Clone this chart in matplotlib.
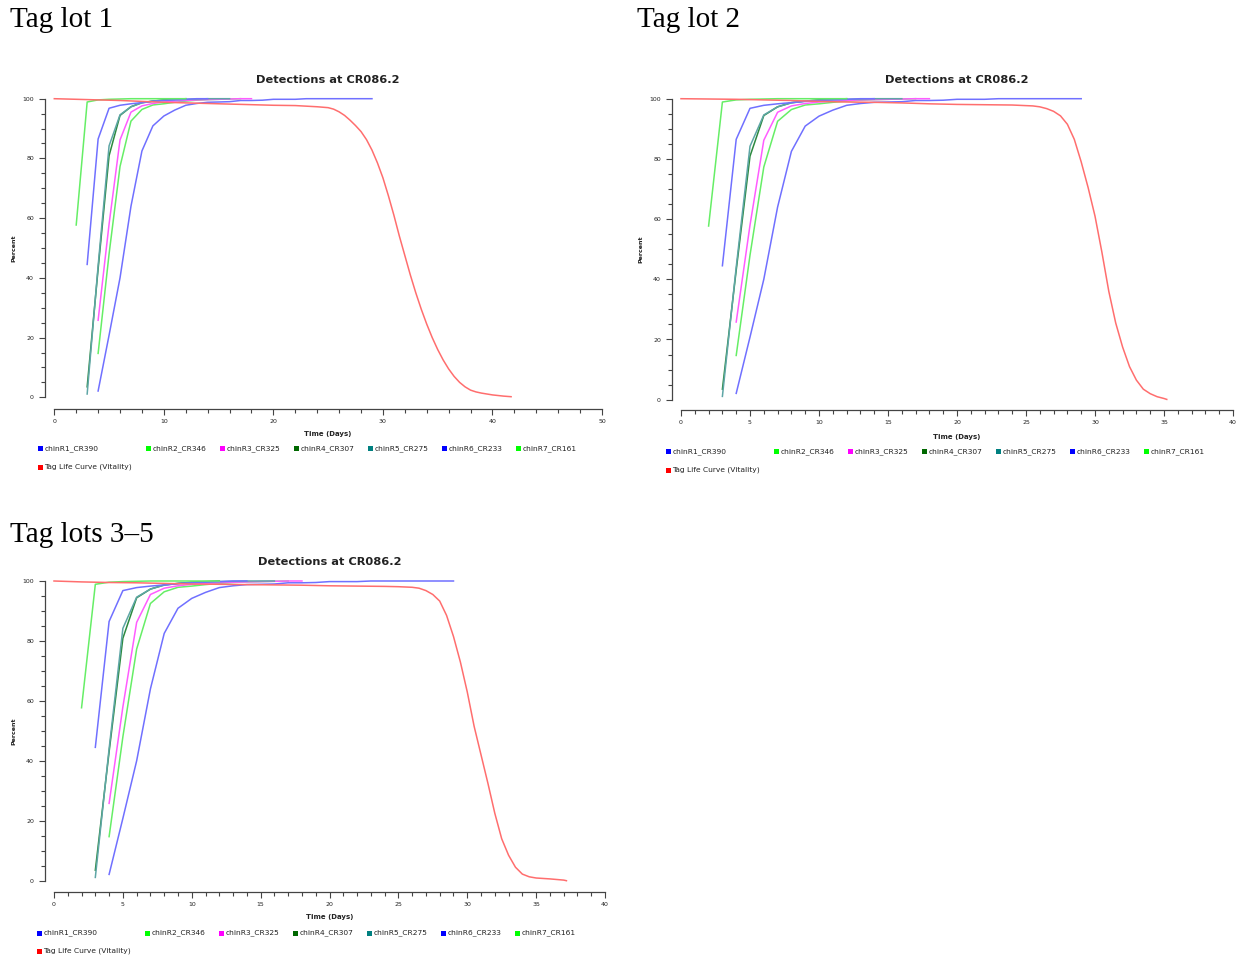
import matplotlib
matplotlib.use("Agg")
import matplotlib.pyplot as plt
from matplotlib.patches import Rectangle
from matplotlib.ticker import MultipleLocator

# ---------------------------------------------------------------- data
series_names = ["chinR1_CR390", "chinR2_CR346", "chinR3_CR325", "chinR4_CR307",
                "chinR5_CR275", "chinR6_CR233", "chinR7_CR161"]
vitality_name = "Tag Life Curve (Vitality)"

# cumulative detection percentage by day, one list per release group
chinR1_days = list(range(4, 30))
chinR1_pct = [2.1, 20.8, 40, 64, 82.5, 90.9, 94.2, 96.2, 97.8, 98.4, 98.8, 98.9, 99.0,
              99.4, 99.4, 99.5, 99.8, 99.8, 99.8, 100, 100, 100, 100, 100, 100, 100]
chinR2_days = list(range(4, 18))
chinR2_pct = [14.7, 48, 77.3, 92.5, 96.4, 97.9, 98.3, 98.8, 99.2, 99.5, 99.7, 99.8, 99.9, 100]
chinR3_days = list(range(4, 19))
chinR3_pct = [25.8, 58, 86.2, 95.5, 97.6, 98.4, 98.9, 99.2, 99.4, 99.6, 99.7, 99.8, 99.9, 100, 100]
chinR4_days = list(range(3, 13))
chinR4_pct = [3.5, 43, 80.9, 94.4, 97.3, 98.7, 99.2, 99.6, 99.8, 100]
chinR5_days = list(range(3, 17))
chinR5_pct = [1.1, 44, 84.2, 94.6, 97.3, 98.6, 99.2, 99.5, 99.7, 99.8, 99.9, 100, 100, 100]
chinR6_days = list(range(3, 15))
chinR6_pct = [44.5, 86.5, 96.8, 97.8, 98.3, 98.7, 99.1, 99.4, 99.6, 99.8, 100, 100]
chinR7_days = list(range(2, 13))
chinR7_pct = [57.7, 98.9, 99.6, 99.8, 99.9, 100, 100, 100, 100, 100, 100]

# tag life (vitality) curve for each tag lot
lot1_days = [0, 2, 4, 6, 8, 10, 12, 14, 16, 18, 20, 22, 24, 25, 25.5, 26, 26.5, 27, 27.5,
             28, 28.5, 29, 29.5, 30, 30.5, 31, 31.5, 32, 32.5, 33, 33.5, 34, 34.5, 35,
             35.5, 36, 36.5, 37, 37.5, 38, 38.5, 39, 39.5, 40, 41, 41.7]
lot1_pct = [100, 99.8, 99.6, 99.4, 99.1, 98.8, 98.6, 98.4, 98.2, 98.0, 97.8, 97.7, 97.3,
            97.0, 96.5, 95.6, 94.4, 92.8, 91.0, 89.0, 86.3, 82.8, 78.5, 73.5, 67.5, 61.0,
            54.0, 47.5, 41.0, 35.0, 29.5, 24.5, 20.0, 16.0, 12.5, 9.5, 7.0, 5.0, 3.5, 2.4,
            1.8, 1.4, 1.1, 0.8, 0.4, 0.2]
lot2_days = [0, 2, 4, 6, 8, 10, 12, 14, 16, 18, 20, 22, 24, 25, 25.5, 26, 26.5, 27, 27.5,
             28, 28.5, 29, 29.5, 30, 30.5, 31, 31.5, 32, 32.5, 33, 33.5, 34, 34.5, 35, 35.2]
lot2_pct = [100, 99.9, 99.8, 99.6, 99.4, 99.1, 98.9, 98.8, 98.6, 98.3, 98.1, 98.0, 97.9,
            97.7, 97.6, 97.3, 96.7, 95.8, 94.3, 91.5, 86.5, 79.0, 70.5, 61.0, 49.0, 36.0,
            25.5, 17.5, 11.0, 6.5, 3.5, 2.0, 1.0, 0.4, 0.1]
lot35_days = [0, 2, 4, 6, 8, 10, 12, 14, 16, 18, 20, 22, 24, 25, 25.5, 26, 26.5, 27, 27.5,
              28, 28.5, 29, 29.5, 30, 30.5, 31, 31.5, 32, 32.5, 33, 33.5, 34, 34.5, 35,
              36, 37, 37.2]
lot35_pct = [100, 99.7, 99.5, 99.4, 99.2, 99.0, 98.9, 98.8, 98.7, 98.6, 98.4, 98.3, 98.2,
             98.1, 98.0, 97.9, 97.6, 96.8, 95.5, 93.3, 88.5, 81.5, 73.0, 63.0, 51.5, 42.0,
             32.5, 22.5, 14.0, 8.5, 4.5, 2.2, 1.3, 0.9, 0.6, 0.2, 0.0]

panel_headings = ["Tag lot 1", "Tag lot 2", "Tag lots 3\u20135"]
chart_title = "Detections at CR086.2"
x_label = "Time (Days)"
y_label = "Percent"

# ---------------------------------------------------------------- styling
W, H = 1241, 955
line_colors = ["#7070ff", "#66ee66", "#ff5cff", "#2c8a40", "#5ea6a6", "#7070ff", "#66ee66"]
swatch_colors = ["#0000ff", "#00ff00", "#ff00ff", "#006800", "#008080", "#0000ff", "#00ff00"]
vitality_line = "#ff6e6e"
vitality_swatch = "#ff0000"
text_col = "#222222"
axis_col = "#444444"

detections = [(chinR1_days, chinR1_pct), (chinR2_days, chinR2_pct), (chinR3_days, chinR3_pct),
              (chinR4_days, chinR4_pct), (chinR5_days, chinR5_pct), (chinR6_days, chinR6_pct),
              (chinR7_days, chinR7_pct)]

fig = plt.figure(figsize=(W / 100, H / 100), dpi=100)
fig.patch.set_facecolor("white")


def fx(px):
    return px / W


def fy(py):
    return 1 - py / H


# panel layout in pixels: data area box, spine offsets, text rows
panels = [
    dict(box=(54.3, 98.7, 602.0, 397.3), xmax=50, major=10, minor=2,
         vit=(lot1_days, lot1_pct), heading=(10, 20), title_y=80,
         ylabel_x=14, xlabel_y=434, spine_left=45, spine_bottom=409,
         leg_x=38, leg_y=(449, 467)),
    dict(box=(681.0, 98.7, 1233.0, 399.7), xmax=40, major=5, minor=1,
         vit=(lot2_days, lot2_pct), heading=(637, 20), title_y=80,
         ylabel_x=641, xlabel_y=437, spine_left=672, spine_bottom=410,
         leg_x=666, leg_y=(452, 470)),
    dict(box=(54.0, 581.0, 605.0, 880.7), xmax=40, major=5, minor=1,
         vit=(lot35_days, lot35_pct), heading=(10, 535), title_y=562,
         ylabel_x=14, xlabel_y=917, spine_left=45, spine_bottom=892,
         leg_x=37, leg_y=(933, 951)),
]

col_offsets = [0, 108, 182, 256, 330, 404, 478]

for p, heading in zip(panels, panel_headings):
    x0, y0, x1, y1 = p["box"]
    ax = fig.add_axes([fx(x0), fy(y1), (x1 - x0) / W, (y1 - y0) / H])
    ax.set_facecolor("white")

    for (d, v), c in zip(detections, line_colors):
        ax.plot(d, v, color=c, lw=1.1, clip_on=False, solid_joinstyle="round")
    vd, vv = p["vit"]
    ax.plot(vd, vv, color=vitality_line, lw=1.1, clip_on=False, solid_joinstyle="round")

    ax.set_xlim(0, p["xmax"])
    ax.set_ylim(0, 100)
    for s in ("top", "right"):
        ax.spines[s].set_visible(False)
    ax.spines["left"].set_position(("outward", (x0 - p["spine_left"]) * 0.72))
    ax.spines["bottom"].set_position(("outward", (p["spine_bottom"] - y1) * 0.72))
    for s in ("left", "bottom"):
        ax.spines[s].set_color(axis_col)
        ax.spines[s].set_linewidth(0.9)

    ax.xaxis.set_major_locator(MultipleLocator(p["major"]))
    ax.xaxis.set_minor_locator(MultipleLocator(p["minor"]))
    ax.yaxis.set_major_locator(MultipleLocator(20))
    ax.yaxis.set_minor_locator(MultipleLocator(5))
    ax.tick_params(which="both", colors=axis_col, labelcolor=text_col, width=0.8,
                   labelsize=4.5)
    ax.tick_params(which="major", length=4)
    ax.tick_params(which="minor", length=3)
    ax.tick_params(axis="x", pad=3)
    ax.tick_params(axis="y", pad=4)

    # axis labels
    ax.set_xlabel(x_label, fontsize=5, fontweight="bold", color=text_col)
    ax.xaxis.set_label_coords(0.5, (y1 - p["xlabel_y"]) / (y1 - y0))
    ax.xaxis.label.set_va("center")
    ax.set_ylabel(y_label, fontsize=4.5, fontweight="bold", color=text_col)
    ax.yaxis.set_label_coords((p["ylabel_x"] - x0) / (x1 - x0), 0.5)
    ax.yaxis.label.set_va("center")

    # chart title
    fig.text(fx((x0 + x1) / 2), fy(p["title_y"]), chart_title, ha="center", va="center",
             fontsize=8.2, fontweight="bold", color=text_col)

    # panel heading
    hx, hy = p["heading"]
    fig.text(fx(hx), fy(hy), heading, ha="left", va="center", fontsize=21,
             family="Liberation Serif", color="black")

    # legend rows below the axis
    sq = 5
    ry1, ry2 = p["leg_y"]
    entries = [(p["leg_x"] + off, ry1, name, col)
               for off, name, col in zip(col_offsets, series_names, swatch_colors)]
    entries.append((p["leg_x"], ry2, vitality_name, vitality_swatch))
    for lx, ly, name, col in entries:
        fig.patches.append(Rectangle((fx(lx), fy(ly + sq / 2)), sq / W, sq / H,
                                     transform=fig.transFigure, facecolor=col,
                                     edgecolor="none"))
        fig.text(fx(lx + sq + 1.5), fy(ly), name, ha="left", va="center", fontsize=5.4,
                 color=text_col)

fig.savefig("out.png", dpi=100, facecolor="white")
